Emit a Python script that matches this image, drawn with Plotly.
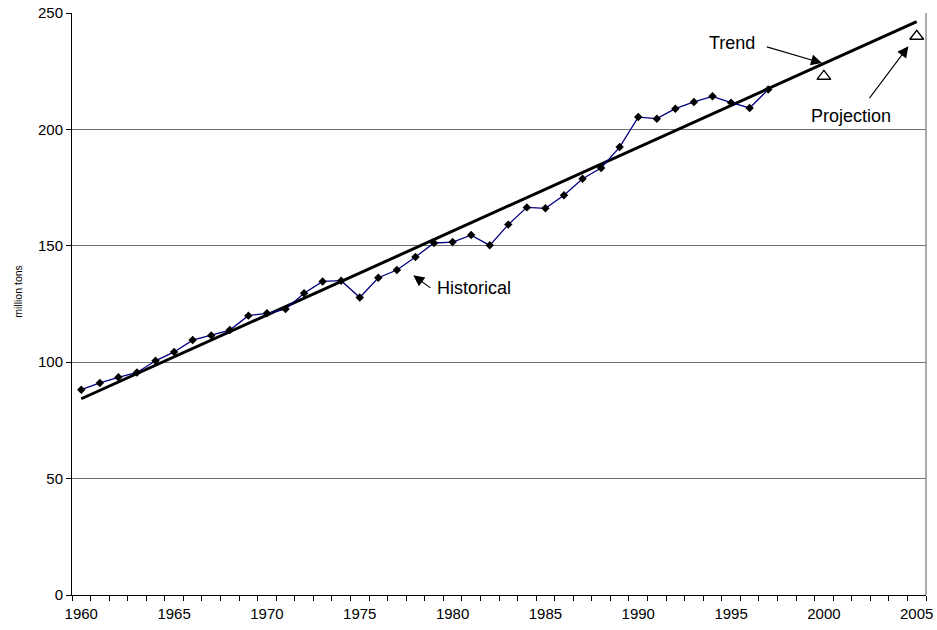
import plotly.graph_objects as go

hist_years = list(range(1960, 1998))
hist_values = [88.2, 91.1, 93.5, 95.6, 100.6, 104.4, 109.5, 111.5, 113.8, 120.0,
               121.0, 122.8, 129.6, 134.7, 135.0, 127.8, 136.3, 139.6, 145.2, 151.2,
               151.6, 154.6, 150.2, 159.1, 166.5, 166.1, 171.7, 178.8, 183.4, 192.4,
               205.3, 204.6, 208.9, 211.8, 214.2, 211.5, 209.2, 217.1]
trend_years = [1960, 2005]
trend_values = [84.3, 246.3]
proj_years = [2000, 2005]
proj_values = [222.8, 240.0]
x_tick_years = [1960, 1965, 1970, 1975, 1980, 1985, 1990, 1995, 2000, 2005]
y_ticks = [0, 50, 100, 150, 200, 250]

FONT = "Liberation Sans, Arial, sans-serif"

fig = go.Figure()
fig.add_trace(go.Scatter(x=trend_years, y=trend_values, mode="lines",
                         line=dict(color="black", width=3), showlegend=False))
fig.add_trace(go.Scatter(x=hist_years, y=hist_values, mode="lines+markers",
                         line=dict(color="#000080", width=1.3),
                         marker=dict(symbol="diamond", size=6.5, color="black"),
                         showlegend=False))
fig.add_trace(go.Scatter(x=proj_years, y=proj_values, mode="markers",
                         marker=dict(symbol="triangle-up-open", size=12, color="black",
                                     line=dict(width=1.4, color="black")),
                         showlegend=False))

fig.update_layout(
    template="none",
    width=937, height=630,
    margin=dict(l=72, r=11, t=13, b=35, autoexpand=False),
    paper_bgcolor="white", plot_bgcolor="white",
    font=dict(family=FONT, color="black", size=15),
    xaxis=dict(range=[1959.5, 2005.5], tickvals=x_tick_years,
               ticktext=[str(v) for v in x_tick_years],
               ticks="outside", ticklen=5, tickcolor="rgba(0,0,0,0)",
               showgrid=False, zeroline=False, automargin=False,
               showline=True, linecolor="black", linewidth=1,
               minor=dict(tick0=1959.5, dtick=1, ticks="outside", ticklen=5,
                          tickcolor="black", tickwidth=1, showgrid=False),
               tickfont=dict(size=15)),
    yaxis=dict(range=[0, 250], tickvals=y_ticks, ticks="outside", ticklen=5,
               tickcolor="black", showgrid=True, gridcolor="#707070", gridwidth=1,
               zeroline=False, showline=True, linecolor="black", linewidth=1,
               automargin=False, tickfont=dict(size=15)),
)

fig.add_shape(type="line", xref="paper", yref="paper", x0=1, x1=1, y0=0, y1=1,
              line=dict(color="#909090", width=1.5))

# axis title
fig.add_annotation(text="million tons", xref="paper", yref="paper",
                   x=-0.0629, y=0.5216, textangle=-90, showarrow=False,
                   font=dict(size=10.5), xanchor="center", yanchor="middle")

# text labels
fig.add_annotation(text="Trend", x=1995.04, y=237.2, showarrow=False, font=dict(size=18))
fig.add_annotation(text="Projection", x=2001.48, y=205.6, showarrow=False, font=dict(size=18))
fig.add_annotation(text="Historical", x=1981.17, y=132.0, showarrow=False, font=dict(size=18))

# arrows
for hx, hy, ax, ay in [(1999.9, 228.5, -56.7, -16.6),
                       (2004.55, 235.7, -40, 53.3),
                       (1977.88, 137.3, 18.7, 13.6)]:
    fig.add_annotation(text="", x=hx, y=hy, ax=ax, ay=ay, showarrow=True,
                       arrowhead=2, arrowsize=2, arrowwidth=1.1, arrowcolor="black")

fig.write_html("out.html", config={"displayModeBar": False},
               post_script="document.body.style.margin='0';document.body.style.overflow='hidden';")
